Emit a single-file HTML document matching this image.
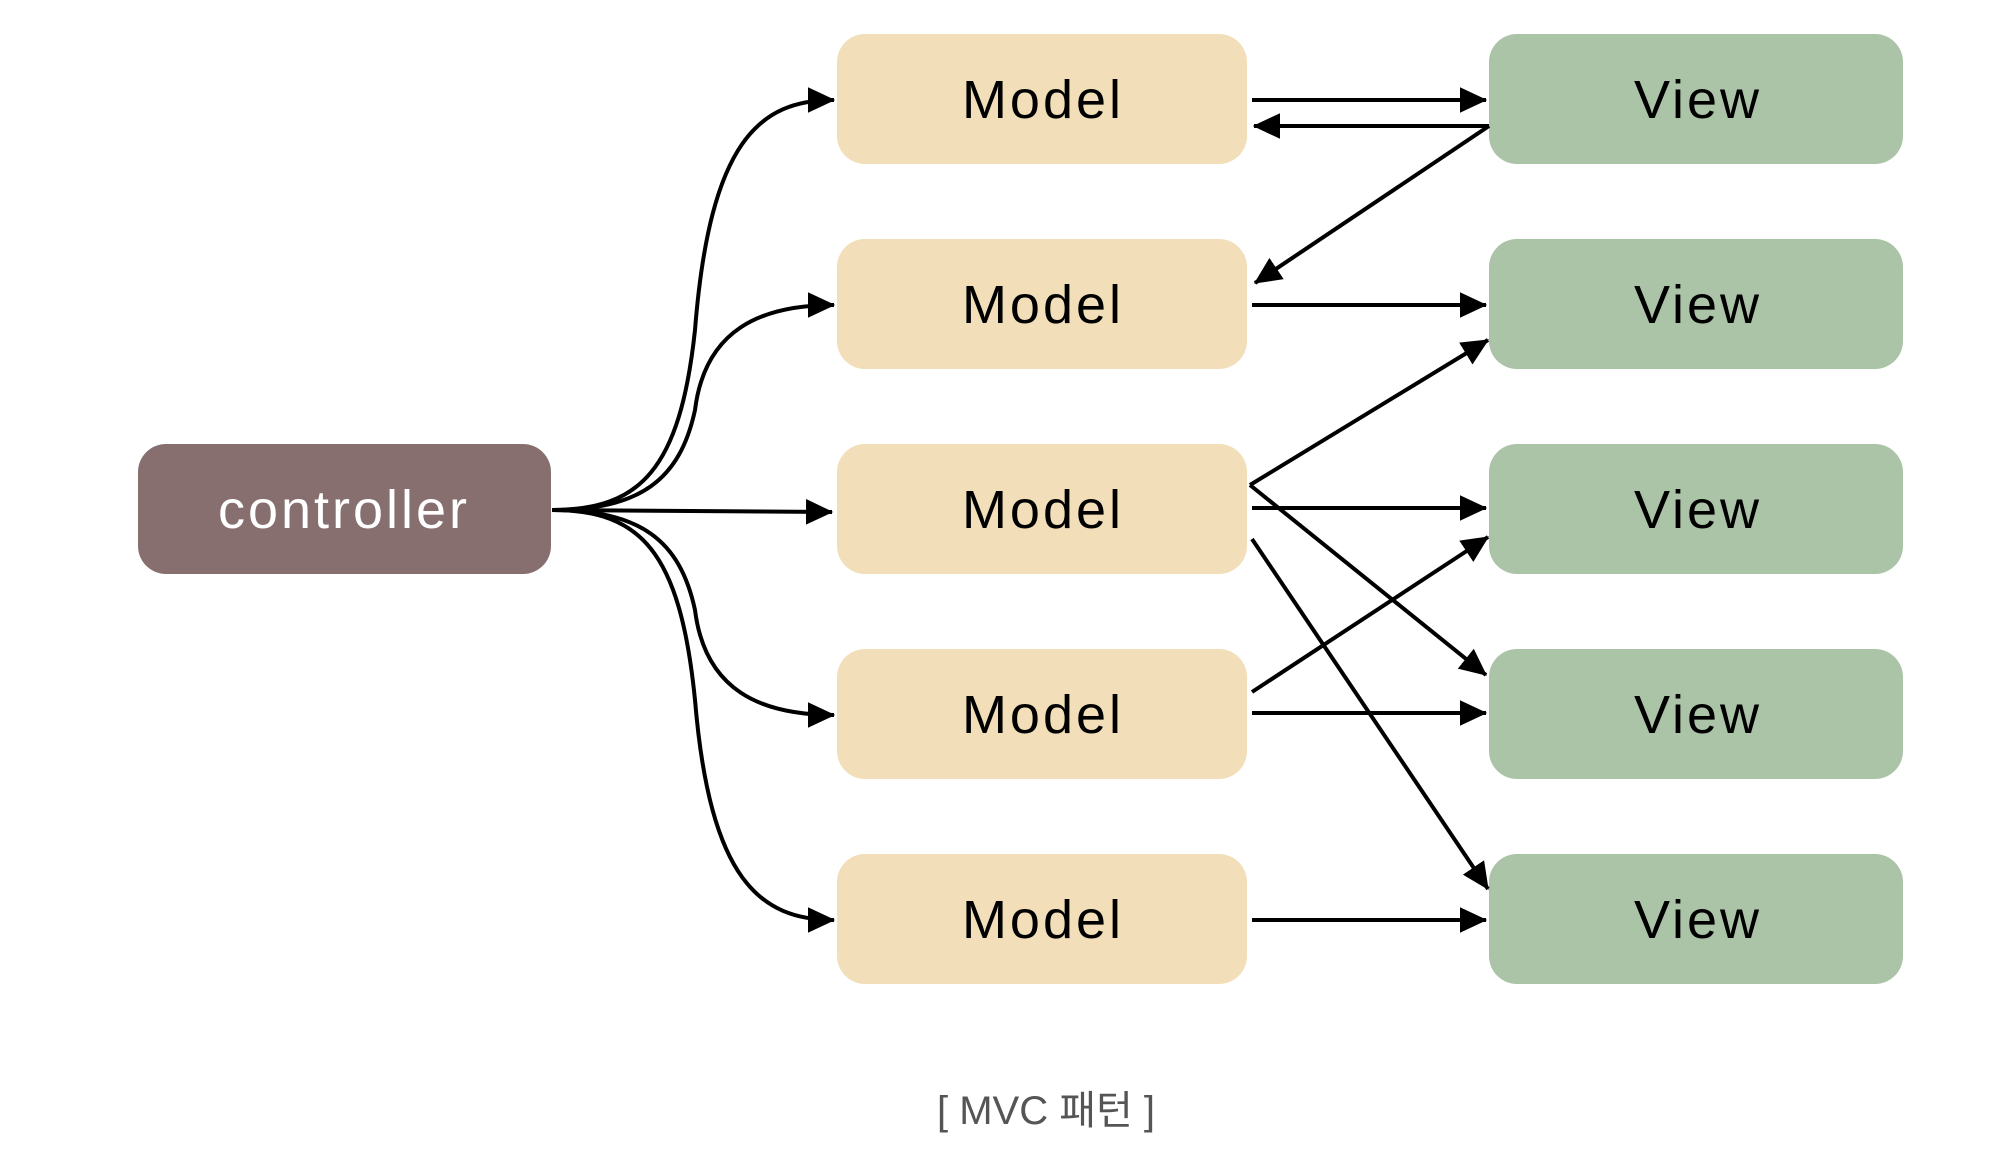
<!DOCTYPE html>
<html><head><meta charset="utf-8"><style>
body{margin:0;background:#fff;width:2000px;height:1160px;overflow:hidden}
</style></head><body>
<svg width="2000" height="1160" xmlns="http://www.w3.org/2000/svg">
<defs>
<marker id="a" markerWidth="8" markerHeight="8" refX="6.5" refY="4" orient="auto" markerUnits="strokeWidth">
<path d="M0,0.8 L6.8,4 L0,7.2 Z" fill="#000"/></marker>
</defs>
<g fill="#f2dfb9">
<rect x="837" y="34" width="410" height="130" rx="28"/>
<rect x="837" y="239" width="410" height="130" rx="28"/>
<rect x="837" y="444" width="410" height="130" rx="28"/>
<rect x="837" y="649" width="410" height="130" rx="28"/>
<rect x="837" y="854" width="410" height="130" rx="28"/>
</g>
<g fill="#abc4a7">
<rect x="1489" y="34" width="414" height="130" rx="28"/>
<rect x="1489" y="239" width="414" height="130" rx="28"/>
<rect x="1489" y="444" width="414" height="130" rx="28"/>
<rect x="1489" y="649" width="414" height="130" rx="28"/>
<rect x="1489" y="854" width="414" height="130" rx="28"/>
</g>
<rect x="138" y="444" width="413" height="130" rx="28" fill="#876f6f"/>
<g font-family="'Liberation Sans',sans-serif" font-size="54" text-anchor="middle" letter-spacing="3">
<text x="1043" y="118">Model</text><text x="1043" y="323">Model</text><text x="1043" y="528">Model</text><text x="1043" y="733">Model</text><text x="1043" y="938">Model</text>
<text x="1698" y="118">View</text><text x="1698" y="323">View</text><text x="1698" y="528">View</text><text x="1698" y="733">View</text><text x="1698" y="938">View</text>
<text x="344" y="528" fill="#fff">controller</text>
</g>
<g stroke="#000" stroke-width="4" fill="none" marker-end="url(#a)">
<path d="M552,510 C640,510 680,470 695,330 C710,140 760,100 834,100"/>
<path d="M552,510 C640,510 680,480 695,410 C705,330 760,305 834,305"/>
<path d="M552,510 L832,512"/>
<path d="M552,510 C640,510 680,540 695,610 C705,690 760,715 834,715"/>
<path d="M552,510 C640,510 680,550 695,700 C710,880 760,920 834,920"/>
<path d="M1252,100 L1486,100"/>
<path d="M1489,126 L1254,126"/>
<path d="M1489,126 L1255,283"/>
<path d="M1252,305 L1486,305"/>
<path d="M1250,485 L1488,340"/>
<path d="M1252,508 L1486,508"/>
<path d="M1250,485 L1486,675"/>
<path d="M1252,539 L1488,889"/>
<path d="M1252,692 L1488,537"/>
<path d="M1252,713 L1486,713"/>
<path d="M1252,920 L1486,920"/>
</g>
<text x="1046" y="1124" font-family="'Liberation Sans','Noto Sans CJK KR',sans-serif" font-size="40" fill="#555" text-anchor="middle">[ MVC 패턴 ]</text>
</svg>
</body></html>
